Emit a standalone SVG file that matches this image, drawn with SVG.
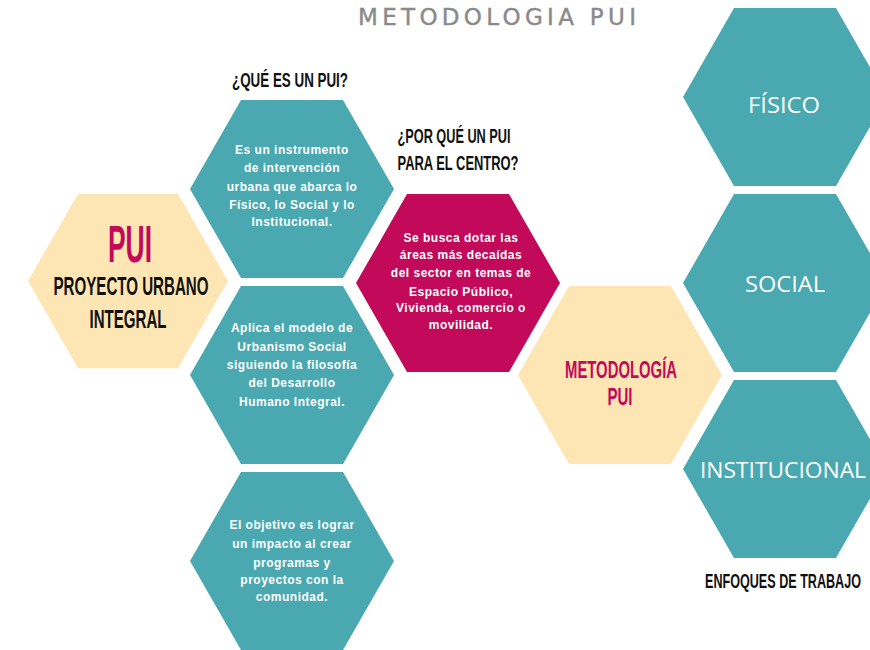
<svg xmlns="http://www.w3.org/2000/svg" width="870" height="650" viewBox="0 0 870 650">
<defs>
<polygon id="hex" points="-102,0 -51,-89 51,-89 102,0 51,89 -51,89"/>
</defs>
<style>
.teal{fill:#4aa9b0}
.yel{fill:#fde6b4}
.mag{fill:#c2095a}
.title{font-family:"DejaVu Sans",sans-serif;font-size:23px;fill:#8a8a8a;text-anchor:middle;stroke:#8a8a8a;stroke-width:0.4px}
.cond{font-family:"Liberation Sans",Arial,sans-serif;font-weight:bold;text-anchor:middle}
.blk{fill:#111}
.pink{fill:#c2095a}
.small{font-family:"Liberation Sans",Arial,sans-serif;font-weight:bold;font-size:12px;fill:#fff;text-anchor:middle;letter-spacing:0.5px}
.big{font-family:"Open Sans","Liberation Sans",sans-serif;font-size:22px;fill:#fff;text-anchor:middle}
</style>
<rect width="870" height="650" fill="#fff"/>
<text class="title" x="497" y="25" textLength="278" lengthAdjust="spacing">METODOLOGIA PUI</text>
<g id="connectors"/>
<g id="pui">
<use href="#hex" class="yel" transform="translate(128,281) scale(0.98)"/>
<text class="cond pink" x="130" y="262" font-size="51" textLength="44" lengthAdjust="spacingAndGlyphs">PUI</text>
<text class="cond blk" x="131" y="295" font-size="25" textLength="155" lengthAdjust="spacingAndGlyphs">PROYECTO URBANO</text>
<text class="cond blk" x="128" y="328" font-size="25" textLength="77" lengthAdjust="spacingAndGlyphs">INTEGRAL</text>
</g>
<g id="que-es">
<text class="cond blk" x="290" y="87" font-size="21" textLength="116" lengthAdjust="spacingAndGlyphs">¿QUÉ ES UN PUI?</text>
<use href="#hex" class="teal" transform="translate(292,189)"/>
<text class="small" x="292" y="154">Es un instrumento</text>
<text class="small" x="292" y="172">de intervención</text>
<text class="small" x="292" y="191">urbana que abarca lo</text>
<text class="small" x="292" y="209">Físico, lo Social y lo</text>
<text class="small" x="292" y="226">Institucional.</text>
</g>
<g id="aplica">
<use href="#hex" class="teal" transform="translate(292,375)"/>
<text class="small" x="292" y="332">Aplica el modelo de</text>
<text class="small" x="292" y="351">Urbanismo Social</text>
<text class="small" x="292" y="369">siguiendo la filosofía</text>
<text class="small" x="292" y="387">del Desarrollo</text>
<text class="small" x="292" y="406">Humano Integral.</text>
</g>
<g id="objetivo">
<use href="#hex" class="teal" transform="translate(292,561)"/>
<text class="small" x="292" y="529">El objetivo es lograr</text>
<text class="small" x="292" y="548">un impacto al crear</text>
<text class="small" x="292" y="567">programas y</text>
<text class="small" x="292" y="584">proyectos con la</text>
<text class="small" x="292" y="601">comunidad.</text>
</g>
<g id="por-que">
<text class="cond blk" x="454" y="143" font-size="21" textLength="113" lengthAdjust="spacingAndGlyphs">¿POR QUÉ UN PUI</text>
<text class="cond blk" x="458" y="170" font-size="21" textLength="121" lengthAdjust="spacingAndGlyphs">PARA EL CENTRO?</text>
<use href="#hex" class="mag" transform="translate(458,283)"/>
<text class="small" x="461" y="242">Se busca dotar las</text>
<text class="small" x="461" y="259">áreas más decaídas</text>
<text class="small" x="461" y="277">del sector en temas de</text>
<text class="small" x="461" y="296">Espacio Público,</text>
<text class="small" x="461" y="312">Vivienda, comercio o</text>
<text class="small" x="461" y="329">movilidad.</text>
</g>
<g id="metodologia">
<use href="#hex" class="yel" transform="translate(620,375)"/>
<text class="cond pink" x="621" y="378" font-size="24" textLength="112" lengthAdjust="spacingAndGlyphs">METODOLOGÍA</text>
<text class="cond pink" x="620" y="405" font-size="24" textLength="25" lengthAdjust="spacingAndGlyphs">PUI</text>
</g>
<g id="fisico">
<use href="#hex" class="teal" transform="translate(785,97)"/>
<text class="big" x="784" y="113" textLength="72" lengthAdjust="spacingAndGlyphs">FÍSICO</text>
</g>
<g id="social">
<use href="#hex" class="teal" transform="translate(785,283)"/>
<text class="big" x="785" y="292" textLength="80" lengthAdjust="spacingAndGlyphs">SOCIAL</text>
</g>
<g id="institucional">
<use href="#hex" class="teal" transform="translate(785,469)"/>
<text class="big" x="783" y="478" textLength="166" lengthAdjust="spacingAndGlyphs">INSTITUCIONAL</text>
<text class="cond blk" transform="translate(783,588) scale(0.6,1)" x="0" y="0" font-size="21">ENFOQUES DE TRABAJO</text>
</g>
</svg>
